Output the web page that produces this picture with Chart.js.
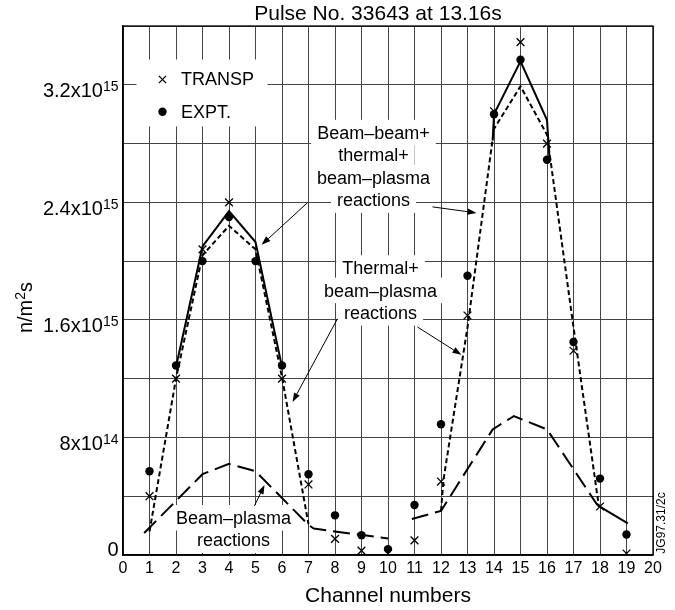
<!DOCTYPE html>
<html>
<head>
<meta charset="utf-8">
<script src="https://cdn.jsdelivr.net/npm/chart.js@4/dist/chart.umd.min.js"></script>
<style>
  html, body { margin: 0; padding: 0; background: #fff; }
  #wrap { width: 675px; height: 610px; position: relative; }
</style>
</head>
<body>
<div id="wrap"><canvas id="c" width="675" height="610"></canvas></div>
<script>
// ---- Neutron emissivity per channel, pulse 33643 at 13.16 s ----
const channels = [1, 2, 3, 4, 5, 6, 7, 8, 9, 10, 11, 12, 13, 14, 15, 16, 17, 18, 19];
const transpValues = [4.0e14, 1.2e15, 2.08e15, 2.4e15, null, 1.2e15, 4.8e14, 1.1e14, 3e13, 1e13,
                      1.0e14, 5.0e14, 1.63e15, 3.02e15, 3.49e15, 2.8e15, 1.39e15, 3.3e14, 1e13];
const exptValues = [5.7e14, 1.29e15, 2.0e15, 2.3e15, 2.0e15, 1.29e15, 5.5e14, 2.7e14, 1.35e14, 4e13,
                    3.4e14, 8.9e14, 1.9e15, 3.0e15, 3.37e15, 2.69e15, 1.45e15, 5.2e14, 1.4e14];

// Beam–beam + thermal + beam–plasma (drawn where it departs from the thermal curve)
const totalLeftX = [2, 3, 4, 5, 6];
const totalLeftY = [1.28e15, 2.1e15, 2.34e15, 2.13e15, 1.28e15];
const totalRightX = [13.95, 14, 15, 16, 16.1];
const totalRightY = [2.82e15, 3.0e15, 3.36e15, 2.96e15, 2.68e15];

// Thermal + beam–plasma
const thermalLeftX = [1, 2, 3, 4, 5, 6, 7];
const thermalLeftY = [1.6e14, 1.2e15, 2.04e15, 2.24e15, 2.08e15, 1.21e15, 2.1e14];
const thermalRightX = [12, 12.1, 13, 14, 15, 16, 17, 17.95];
const thermalRightY = [3.0e14, 5.2e14, 1.55e15, 2.9e15, 3.19e15, 2.86e15, 1.55e15, 3.4e14];

// Beam–plasma only
const beamPlasmaLeftX = [0.8, 3, 4, 5, 7, 7.2, 10];
const beamPlasmaLeftY = [1.5e14, 5.5e14, 6.2e14, 5.7e14, 2.05e14, 1.8e14, 1.12e14];
const beamPlasmaRightX = [10.9, 12, 13.95, 14.75, 16, 17.9];
const beamPlasmaRightY = [2.45e14, 3.0e14, 8.55e14, 9.45e14, 8.55e14, 3.4e14];
const beamPlasmaTailX = [17.9, 19.05];
const beamPlasmaTailY = [3.4e14, 2.15e14];

// Axis labelling
const yTickValues = [0, 8e14, 1.6e15, 2.4e15, 3.2e15];
const yTickBases = ['0', '8x10', '1.6x10', '2.4x10', '3.2x10'];
const yTickExponents = ['', '14', '15', '15', '15'];
const titleText = 'Pulse No. 33643 at 13.16s';
const xTitleText = 'Channel numbers';
const figureId = 'JG97.31/2c';

// Callout texts (anchor in channel / emissivity units)
const callouts = [
  { lines: ['Beam\u2013beam+', 'thermal+', 'beam\u2013plasma', 'reactions'], x: 9.45, y: 2.832e15 },
  { lines: ['Thermal+', 'beam\u2013plasma', 'reactions'], x: 9.72, y: 1.911e15 },
  { lines: ['Beam\u2013plasma', 'reactions'], x: 4.17, y: 2.11e14 }
];
const arrows = [
  [6.96, 2.397e15, 5.23, 2.111e15],
  [11.68, 2.369e15, 13.34, 2.328e15],
  [8.09, 1.607e15, 6.40, 1.042e15],
  [11.11, 1.552e15, 12.77, 1.362e15],
  [4.96, 3.34e14, 5.34, 4.77e14]
];

const FONT_FAMILY = '"Liberation Sans", Arial, Helvetica, sans-serif';
const font = (s) => s + 'px ' + FONT_FAMILY;
const pts = (xs, ys) => xs.map((x, i) => ({ x: x, y: ys[i] })).filter(p => p.y !== null);

function lineSet(label, xs, ys, dash) {
  return {
    label: label,
    data: pts(xs, ys),
    showLine: true,
    borderColor: '#000',
    borderWidth: 2,
    borderDash: dash,
    pointRadius: 0,
    fill: false,
    tension: 0
  };
}

const decorations = {
  id: 'decorations',
  beforeDatasetsDraw(chart) {
    const ctx = chart.ctx;
    const a = chart.chartArea;
    const xs = chart.scales.x, ys = chart.scales.y;
    ctx.save();
    // frame
    ctx.strokeStyle = '#000';
    ctx.lineWidth = 1.3;
    ctx.strokeRect(a.left, a.top, a.right - a.left, a.bottom - a.top);

    // legend panel
    ctx.fillStyle = '#fff';
    ctx.fillRect(a.left + 13.5, a.top + 33.5, 131, 67);
    const mx = a.left + 39.5;
    ctx.strokeStyle = '#000';
    ctx.lineWidth = 1.3;
    const r = 3.6, cy1 = a.top + 53.5;
    ctx.beginPath();
    ctx.moveTo(mx - r, cy1 - r); ctx.lineTo(mx + r, cy1 + r);
    ctx.moveTo(mx + r, cy1 - r); ctx.lineTo(mx - r, cy1 + r);
    ctx.stroke();
    ctx.fillStyle = '#000';
    ctx.beginPath();
    ctx.arc(mx, a.top + 85.8, 4.2, 0, Math.PI * 2);
    ctx.fill();
    ctx.font = font(18);
    ctx.textAlign = 'left';
    ctx.textBaseline = 'alphabetic';
    ctx.fillText('TRANSP', a.left + 58, a.top + 58.5);
    ctx.fillText('EXPT.', a.left + 58, a.top + 91.8);

    // callout texts on white panels
    const lh = 22.5;
    ctx.font = font(18);
    callouts.forEach(c => {
      const cx = xs.getPixelForValue(c.x);
      const b0 = ys.getPixelForValue(c.y);
      ctx.fillStyle = '#fff';
      c.lines.forEach((t, i) => {
        const w = ctx.measureText(t).width;
        const b = b0 + i * lh;
        ctx.fillRect(cx - w / 2 - 6, b - 19, w + 12, lh + 3);
      });
      ctx.fillStyle = '#000';
      ctx.textAlign = 'center';
      c.lines.forEach((t, i) => ctx.fillText(t, cx, b0 + i * lh));
    });
    ctx.restore();
  },
  afterDraw(chart) {
    const ctx = chart.ctx;
    const a = chart.chartArea;
    const xs = chart.scales.x, ys = chart.scales.y;
    ctx.save();
    ctx.fillStyle = '#000';
    ctx.strokeStyle = '#000';

    // arrows
    ctx.lineWidth = 1;
    arrows.forEach(([x0, y0, x1, y1]) => {
      const p0x = xs.getPixelForValue(x0), p0y = ys.getPixelForValue(y0);
      const p1x = xs.getPixelForValue(x1), p1y = ys.getPixelForValue(y1);
      const ang = Math.atan2(p1y - p0y, p1x - p0x);
      const L = 9, W = 3.2;
      const bx = p1x - L * Math.cos(ang), by = p1y - L * Math.sin(ang);
      ctx.beginPath();
      ctx.moveTo(p0x, p0y);
      ctx.lineTo(bx, by);
      ctx.stroke();
      ctx.beginPath();
      ctx.moveTo(p1x, p1y);
      ctx.lineTo(bx + W * Math.sin(ang), by - W * Math.cos(ang));
      ctx.lineTo(bx - W * Math.sin(ang), by + W * Math.cos(ang));
      ctx.closePath();
      ctx.fill();
    });

    // y tick labels with powers of ten
    const right = a.left - 4.5;
    yTickValues.forEach((v, i) => {
      const py = ys.getPixelForValue(v);
      ctx.font = font(14);
      const ew = yTickExponents[i] ? ctx.measureText(yTickExponents[i]).width : 0;
      ctx.textAlign = 'left';
      if (yTickExponents[i]) ctx.fillText(yTickExponents[i], right - ew, py + 6.5);
      ctx.font = font(20);
      ctx.textAlign = 'right';
      ctx.fillText(yTickBases[i], right - ew, v === 0 ? py + 1 : py + 12.5);
    });

    // x tick labels
    ctx.font = font(16);
    ctx.textAlign = 'center';
    xs.ticks.forEach(t => {
      ctx.fillText(String(t.value), xs.getPixelForValue(t.value), a.bottom + 18);
    });

    // titles
    ctx.font = font(21);
    ctx.fillText(titleText, 378, a.top - 6);
    ctx.fillText(xTitleText, (a.left + a.right) / 2, a.bottom + 47);

    // rotated y title n/m²s
    ctx.save();
    ctx.translate(31.5, 307.5);
    ctx.rotate(-Math.PI / 2);
    ctx.font = font(20);
    const w1 = ctx.measureText('n/m').width, w3 = ctx.measureText('s').width;
    ctx.font = font(14);
    const w2 = ctx.measureText('2').width;
    const x0 = -(w1 + w2 + w3) / 2;
    ctx.textAlign = 'left';
    ctx.font = font(20);
    ctx.fillText('n/m', x0, 0);
    ctx.font = font(14);
    ctx.fillText('2', x0 + w1, -7);
    ctx.font = font(20);
    ctx.fillText('s', x0 + w1 + w2, 0);
    ctx.restore();

    // figure reference
    ctx.save();
    ctx.translate(664.5, 523);
    ctx.rotate(-Math.PI / 2);
    ctx.font = font(12);
    ctx.textAlign = 'center';
    ctx.fillText(figureId, 0, 0);
    ctx.restore();

    ctx.restore();
  }
};

new Chart(document.getElementById('c'), {
  type: 'line',
  data: {
    datasets: [
      {
        label: 'EXPT.',
        data: pts(channels, exptValues),
        showLine: false,
        pointStyle: 'circle',
        pointRadius: 4.2,
        pointBackgroundColor: '#000',
        pointBorderColor: '#000',
        pointBorderWidth: 0
      },
      {
        label: 'TRANSP',
        data: pts(channels, transpValues),
        showLine: false,
        pointStyle: 'crossRot',
        pointRadius: 5.5,
        pointBorderColor: '#000',
        pointBorderWidth: 1.3
      },
      lineSet('Total', totalLeftX, totalLeftY, []),
      lineSet('Total', totalRightX, totalRightY, []),
      lineSet('Thermal+beam-plasma', thermalLeftX, thermalLeftY, [5, 3]),
      lineSet('Thermal+beam-plasma', thermalRightX, thermalRightY, [5, 3]),
      lineSet('Beam-plasma', beamPlasmaLeftX, beamPlasmaLeftY, [17, 7]),
      lineSet('Beam-plasma', beamPlasmaRightX, beamPlasmaRightY, [17, 7]),
      lineSet('Beam-plasma', beamPlasmaTailX, beamPlasmaTailY, [])
    ]
  },
  options: {
    responsive: false,
    animation: false,
    events: [],
    layout: { padding: { left: 123, right: 22, top: 26, bottom: 55 } },
    plugins: { legend: { display: false }, tooltip: { enabled: false }, title: { display: false } },
    scales: {
      x: {
        type: 'linear',
        min: 0, max: 20,
        ticks: { display: false, stepSize: 1 },
        grid: { color: '#444', lineWidth: 1, drawTicks: false },
        border: { display: true, color: '#000', width: 1.3 }
      },
      y: {
        type: 'linear',
        min: 0, max: 3.6e15,
        ticks: { display: false, stepSize: 4e14 },
        grid: { color: '#444', lineWidth: 1, drawTicks: false },
        border: { display: true, color: '#000', width: 1.3 }
      }
    }
  },
  plugins: [decorations]
});
</script>
</body>
</html>
